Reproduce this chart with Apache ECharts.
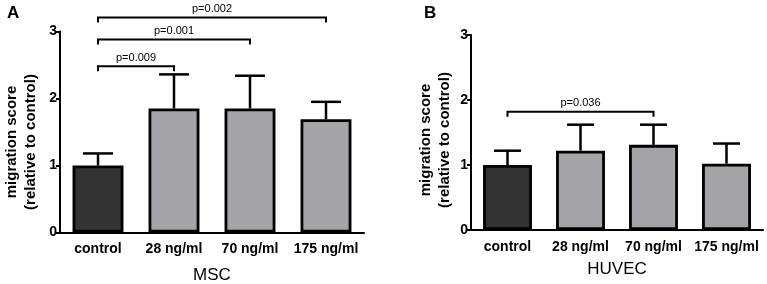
<!DOCTYPE html>
<html><head><meta charset="utf-8">
<script src="https://cdn.jsdelivr.net/npm/echarts@6/dist/echarts.min.js"></script>
<style>html,body{margin:0;padding:0;background:#fff}#c{width:767px;height:284px}</style>
</head><body><div id="c"></div>
<script>
const categories = ['control', '28 ng/ml', '70 ng/ml', '175 ng/ml'];
const yTicks = [0, 1, 2, 3];
const mscMean = [1.00, 1.85, 1.85, 1.69];
const mscUpper = [1.18, 2.36, 2.34, 1.95];
const huvecMean = [1.00, 1.22, 1.31, 1.02];
const huvecUpper = [1.22, 1.62, 1.62, 1.33];
// brackets: [fromIndex, toIndex, level, label]
const mscBrackets = [[0, 1, 2.48, 'p=0.009'], [0, 2, 2.88, 'p=0.001'], [0, 3, 3.21, 'p=0.002']];
const huvecBrackets = [[0, 2, 1.82, 'p=0.036']];
const panelTitles = ['MSC', 'HUVEC'];
const panelLetters = ['A', 'B'];
const yTitle = 'migration score\n(relative to control)';

const FONT = 'Liberation Sans, Arial, sans-serif';
const ctrlColor = '#333333';
const treatColor = '#a4a3a7';

function barData(vals) {
  return vals.map((v, i) => ({ value: v, itemStyle: { color: i === 0 ? ctrlColor : treatColor } }));
}
function errData(mean, upper) {
  return mean.map((m, i) => [i, m, upper[i]]);
}
function errRender(capW) {
  return function (params, api) {
    const x = api.value(0);
    const p0 = api.coord([x, api.value(1)]);
    const p1 = api.coord([x, api.value(2)]);
    const st = { stroke: '#000', lineWidth: 2.5 };
    return { type: 'group', children: [
      { type: 'line', shape: { x1: p0[0], y1: p0[1], x2: p1[0], y2: p1[1] }, style: st },
      { type: 'line', shape: { x1: p1[0] - capW / 2, y1: p1[1], x2: p1[0] + capW / 2, y2: p1[1] }, style: st }
    ]};
  };
}
function bracketRender(params, api) {
  const a = api.coord([api.value(0), api.value(2)]);
  const b = api.coord([api.value(1), api.value(2)]);
  const t = 5;
  return { type: 'group', children: [
    { type: 'polyline', shape: { points: [[a[0], a[1] + t], [a[0], a[1]], [b[0], a[1]], [b[0], a[1] + t]] },
      style: { stroke: '#000', lineWidth: 2, fill: null } },
    { type: 'text', x: (a[0] + b[0]) / 2, y: a[1] - 3,
      style: { text: api.value(3), textAlign: 'center', textVerticalAlign: 'bottom', fontSize: 11, fontFamily: FONT, fill: '#000' } }
  ]};
}
function xAxis(gi, name, gap) {
  return {
    type: 'category', gridIndex: gi, data: categories,
    axisLine: { lineStyle: { color: '#000', width: 2 } },
    axisTick: { show: false },
    axisLabel: { color: '#000', fontWeight: 'bold', fontSize: 14, fontFamily: FONT, margin: 10, interval: 0 },
    name: name, nameLocation: 'middle', nameGap: gap,
    nameTextStyle: { color: '#000', fontSize: 17, fontFamily: FONT }
  };
}
function yAxis(gi) {
  return {
    type: 'value', gridIndex: gi, min: 0, max: 3, interval: 1,
    axisLine: { show: true, lineStyle: { color: '#000', width: 2 } },
    axisTick: { show: true, length: 4, lineStyle: { color: '#000', width: 2 } },
    splitLine: { show: false },
    axisLabel: { color: '#000', fontWeight: 'bold', fontSize: 14, fontFamily: FONT, margin: 3,
      formatter: v => yTicks.includes(v) ? String(v) : '' }
  };
}
function yTitleGraphic(x, y) {
  return { type: 'text', x: x, y: y, rotation: Math.PI / 2,
    style: { text: yTitle, textAlign: 'center', textVerticalAlign: 'middle', fontSize: 15, fontWeight: 'bold',
      fontFamily: FONT, fill: '#000', lineHeight: 19 } };
}
const chart = echarts.init(document.getElementById('c'), null, { renderer: 'canvas' });
chart.setOption({
  animation: false,
  grid: [
    { left: 60, right: 403, top: 31.5, bottom: 51.5, outerBoundsMode: 'none', containLabel: false },
    { left: 471, right: 4, top: 35, bottom: 54, outerBoundsMode: 'none', containLabel: false }
  ],
  xAxis: [xAxis(0, panelTitles[0], 34), xAxis(1, panelTitles[1], 31)],
  yAxis: [yAxis(0), yAxis(1)],
  graphic: [
    { type: 'text', left: 7, top: 5, style: { text: panelLetters[0], fontSize: 17, fontWeight: 'bold', fontFamily: FONT, fill: '#000' } },
    { type: 'text', left: 424, top: 5, style: { text: panelLetters[1], fontSize: 17, fontWeight: 'bold', fontFamily: FONT, fill: '#000' } },
    yTitleGraphic(21, 142),
    yTitleGraphic(435, 140)
  ],
  series: [
    { type: 'bar', xAxisIndex: 0, yAxisIndex: 0, data: barData(mscMean), barWidth: '67%',
      itemStyle: { borderColor: '#000', borderWidth: 2.8 } },
    { type: 'custom', xAxisIndex: 0, yAxisIndex: 0, data: errData(mscMean, mscUpper), renderItem: errRender(30), z: 1 },
    { type: 'custom', xAxisIndex: 0, yAxisIndex: 0, data: mscBrackets, renderItem: bracketRender, clip: false, z: 3 },
    { type: 'bar', xAxisIndex: 1, yAxisIndex: 1, data: barData(huvecMean), barWidth: '67%',
      itemStyle: { borderColor: '#000', borderWidth: 2.8 } },
    { type: 'custom', xAxisIndex: 1, yAxisIndex: 1, data: errData(huvecMean, huvecUpper), renderItem: errRender(27), z: 1 },
    { type: 'custom', xAxisIndex: 1, yAxisIndex: 1, data: huvecBrackets, renderItem: bracketRender, clip: false, z: 3 }
  ]
});
</script></body></html>
